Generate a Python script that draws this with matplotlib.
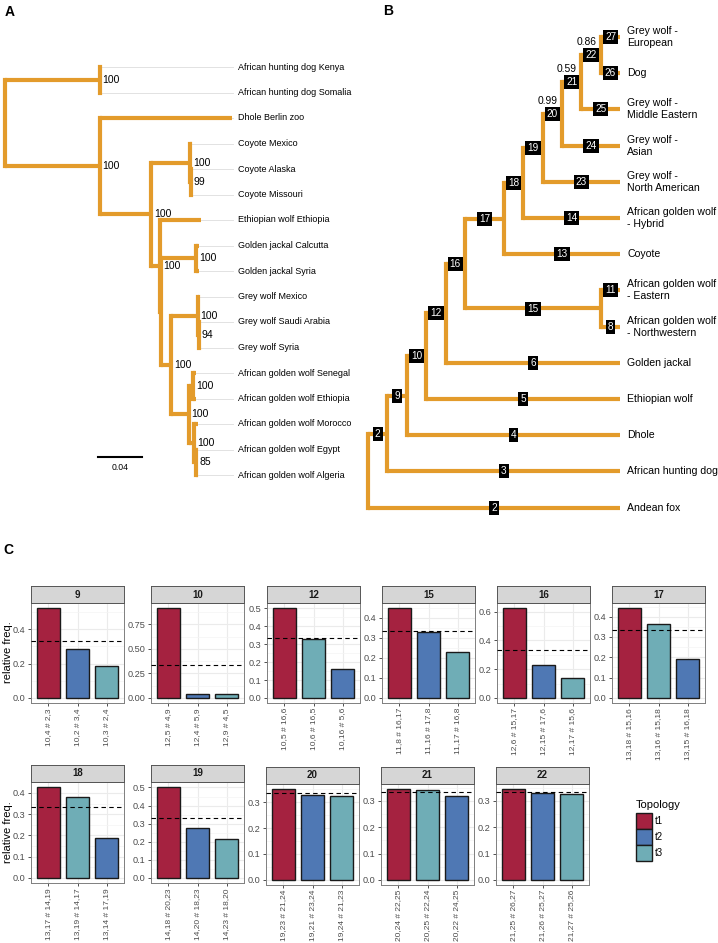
import matplotlib
matplotlib.use('Agg')
import matplotlib.pyplot as plt
from matplotlib.patches import Rectangle
from matplotlib.ticker import MultipleLocator
import numpy as np

plt.rcParams['font.family'] = ['Liberation Sans', 'DejaVu Sans']
NARROW = ['Liberation Sans Narrow', 'Liberation Sans', 'DejaVu Sans']

ORANGE = '#E39B2B'
TOPO_COLORS = {'t1': '#A52240', 't2': '#4F78B4', 't3': '#6FADB6'}

# A: ML tree, branch lengths (subst./site), bootstrap as node labels
tree_a = ("(('African hunting dog Kenya':0.0005,'African hunting dog Somalia':0.0005)100:0.086,"
          "('Dhole Berlin zoo':0.120,"
          "(('Coyote Mexico':0.002,('Coyote Alaska':0.001,'Coyote Missouri':0.0005)99:0.001)100:0.035,"
          "('Ethiopian wolf Ethiopia':0.037,"
          "(('Golden jackal Calcutta':0.002,'Golden jackal Syria':0.002)100:0.032,"
          "(('Grey wolf Mexico':0.001,('Grey wolf Saudi Arabia':0.001,'Grey wolf Syria':0.0005)94:0.001)100:0.024,"
          "(('African golden wolf Senegal':0.003,'African golden wolf Ethiopia':0.003)100:0.004,"
          "('African golden wolf Morocco':0.003,('African golden wolf Egypt':0.001,"
          "'African golden wolf Algeria':0.001)85:0.002)100:0.005)100:0.016)100:0.009):0.001)100:0.008)100:0.047)100:0.086);")

# B: species tree, depth in steps, edge numbers (#) and posterior (@)
tree_b = ("(((((((((((('Grey wolf -\nEuropean'#27:1,'Dog'#26:1)#22@0.86:1,"
          "'Grey wolf -\nMiddle Eastern'#25:2)#21@0.59:1,"
          "'Grey wolf -\nAsian'#24:3)#20@0.99:1,"
          "'Grey wolf -\nNorth American'#23:4)#19:1,"
          "'African golden wolf\n- Hybrid'#14:5)#18:1,"
          "'Coyote'#13:6)#17:2,"
          "('African golden wolf\n- Eastern'#11:1,'African golden wolf\n- Northwestern'#8:1)#15:7)#16:1,"
          "'Golden jackal'#6:9)#12:1,"
          "'Ethiopian wolf'#5:10)#10:1,"
          "'Dhole'#4:11)#9:1,"
          "'African hunting dog'#3:12)#2:1,"
          "'Andean fox'#2:13);")

# C: quartet frequencies per node
node_ids = ['9', '10', '12', '15', '16', '17', '18', '19', '20', '21', '22']
quartets = [
    ['10,4 # 2,3', '10,2 # 3,4', '10,3 # 2,4'],
    ['12,5 # 4,9', '12,4 # 5,9', '12,9 # 4,5'],
    ['10,5 # 16,6', '10,6 # 16,5', '10,16 # 5,6'],
    ['11,8 # 16,17', '11,16 # 17,8', '11,17 # 16,8'],
    ['12,6 # 15,17', '12,15 # 17,6', '12,17 # 15,6'],
    ['13,18 # 15,16', '13,16 # 15,18', '13,15 # 16,18'],
    ['13,17 # 14,19', '13,19 # 14,17', '13,14 # 17,19'],
    ['14,18 # 20,23', '14,20 # 18,23', '14,23 # 18,20'],
    ['19,23 # 21,24', '19,21 # 23,24', '19,24 # 21,23'],
    ['20,24 # 22,25', '20,25 # 22,24', '20,22 # 24,25'],
    ['21,25 # 26,27', '21,26 # 25,27', '21,27 # 25,26'],
]
rel_freq = [
    [0.527, 0.284, 0.186],
    [0.921, 0.040, 0.037],
    [0.505, 0.328, 0.161],
    [0.450, 0.330, 0.228],
    [0.628, 0.228, 0.138],
    [0.445, 0.365, 0.193],
    [0.430, 0.380, 0.189],
    [0.505, 0.278, 0.217],
    [0.352, 0.326, 0.322],
    [0.346, 0.342, 0.316],
    [0.346, 0.331, 0.327],
]
topology = [
    ['t1', 't2', 't3'], ['t1', 't2', 't3'], ['t1', 't3', 't2'], ['t1', 't2', 't3'],
    ['t1', 't2', 't3'], ['t1', 't3', 't2'], ['t1', 't3', 't2'], ['t1', 't2', 't3'],
    ['t1', 't2', 't3'], ['t1', 't3', 't2'], ['t1', 't2', 't3'],
]
tick_step = [0.2, 0.25, 0.1, 0.1, 0.2, 0.1, 0.1, 0.1, 0.1, 0.1, 0.1]

W, H = 718, 943
fig = plt.figure(figsize=(W / 100, H / 100), dpi=100)


def px_axes(x0, y0, x1, y1):
    return fig.add_axes([x0 / W, 1 - y1 / H, (x1 - x0) / W, (y1 - y0) / H])


def parse_newick(s):
    pos = 0

    def node():
        nonlocal pos
        n = {'children': [], 'label': '', 'length': 0.0}
        if s[pos] == '(':
            pos += 1
            n['children'].append(node())
            while s[pos] == ',':
                pos += 1
                n['children'].append(node())
            pos += 1
        label = ''
        while s[pos] not in ':,);':
            if s[pos] == "'":
                end = s.index("'", pos + 1)
                label += s[pos + 1:end]
                pos = end + 1
            else:
                label += s[pos]
                pos += 1
        n['label'] = label
        if s[pos] == ':':
            pos += 1
            start = pos
            while s[pos] not in ',);':
                pos += 1
            n['length'] = float(s[start:pos])
        return n

    return node()


def layout(root):
    tips = []

    def walk(n, x):
        n['x'] = x
        for c in n['children']:
            c['parent'] = n
            walk(c, x + c['length'])
        if n['children']:
            n['y'] = np.mean([c['y'] for c in n['children']])
        else:
            n['y'] = len(tips)
            tips.append(n)
    walk(root, 0.0)
    return tips


def all_nodes(n):
    yield n
    for c in n['children']:
        yield from all_nodes(c)


def draw_branches(ax, root, lw=3.0):
    for n in all_nodes(root):
        if not n['children']:
            continue
        ys = [c['y'] for c in n['children']]
        ax.plot([n['x'], n['x']], [min(ys), max(ys)], color=ORANGE, lw=lw,
                solid_capstyle='projecting', zorder=2)
        for c in n['children']:
            ax.plot([n['x'], c['x']], [c['y'], c['y']], color=ORANGE, lw=lw,
                    solid_capstyle='butt', zorder=2)


# ---------------- A ----------------
root_a = parse_newick(tree_a)
tips_a = layout(root_a)
axA = px_axes(0, 40, 360, 500)
axA.axis('off')
PXU = 1100.0  # pixels per unit branch length
axA.set_xlim(-5 / PXU, 355 / PXU)
axA.set_ylim((500 - 67) / 25.5, (40 - 67) / 25.5)
draw_branches(axA, root_a)
guide_end = 228 / PXU
for t in tips_a:
    axA.plot([t['x'], guide_end], [t['y'], t['y']], color='#E2E2E2', lw=0.7, zorder=1)
    axA.text(233 / PXU, t['y'], t['label'], ha='left', va='center', fontsize=6.5,
             family=NARROW)
for n in all_nodes(root_a):
    if n['children'] and n['label']:
        axA.text(n['x'] + 3 / PXU, n['y'], n['label'], ha='left', va='center', fontsize=7.5)
sb_x = 93 / PXU
sb_y = (457 - 67) / 25.5
axA.plot([sb_x, sb_x + 0.04], [sb_y, sb_y], color='black', lw=1.5)
axA.text(sb_x + 0.02, sb_y + 0.25, '0.04', ha='center', va='top', fontsize=6.2, family=NARROW)
fig.text(10 / W, 1 - 12 / H, 'A', fontsize=10, fontweight='bold', ha='center', va='center')

# ---------------- B ----------------
root_b = parse_newick(tree_b)
tips_b = layout(root_b)
axB = px_axes(360, 20, 718, 520)
axB.axis('off')
DX, DY = 19.4, 36.2
axB.set_xlim((360 - 368) / DX, (718 - 368) / DX)
axB.set_ylim((520 - 37) / DY, (20 - 37) / DY)
draw_branches(axB, root_b)
for n in all_nodes(root_b):
    if 'parent' not in n:
        continue
    name, rest = n['label'].split('#')
    if '@' in rest:
        num, post = rest.split('@')
    else:
        num, post = rest, None
    xm = (n['parent']['x'] + n['x']) / 2
    axB.text(xm, n['y'], num, ha='center', va='center', color='white', fontsize=7.2,
             family=NARROW, zorder=4,
             bbox=dict(boxstyle='square,pad=0.2', fc='black', ec='none'))
    if post:
        axB.text(xm - 0.25, n['y'] - 0.37, post, ha='center', va='center', fontsize=7.4)
    if not n['children']:
        axB.text(n['x'] + 7 / DX, n['y'], name, ha='left', va='center', fontsize=7.6,
                 linespacing=1.25)
fig.text(388 / W, 1 - 11 / H, 'B', fontsize=10, fontweight='bold', ha='center', va='center')

# ---------------- C ----------------
fig.text(8 / W, 1 - 550 / H, 'C', fontsize=10, fontweight='bold', ha='center', va='center')
panel_left = [31, 151, 267, 382, 497, 612, 31, 151, 266, 381, 496]
panel_top = [603] * 6 + [782, 782, 784, 784, 784]
panel_bot = [702.5] * 6 + [882.5, 882.5, 884.5, 884.5, 884.5]
PW, STRIP = 93, 17

for k, nid in enumerate(node_ids):
    x0, y0, y1 = panel_left[k], panel_top[k], panel_bot[k]
    ax = px_axes(x0, y0, x0 + PW, y1)
    vals = rel_freq[k]
    m = max(vals)
    xs = np.arange(1, 4)
    ax.bar(xs, vals, width=0.8, color=[TOPO_COLORS[t] for t in topology[k]],
           edgecolor='#1A1A1A', linewidth=1.0, zorder=3)
    ax.axhline(1 / 3, color='black', lw=0.8, ls=(0, (4, 3)), zorder=4)
    ax.set_xlim(0.4, 3.6)
    ax.set_ylim(-0.05 * m, 1.05 * m)
    step = tick_step[k]
    ax.yaxis.set_major_locator(MultipleLocator(step))
    ax.yaxis.set_minor_locator(MultipleLocator(step / 2))
    fmt = '%.2f' if step == 0.25 else '%.1f'
    ax.yaxis.set_major_formatter(plt.FormatStrFormatter(fmt))
    ax.set_xticks(xs)
    ax.set_xticklabels(quartets[k], rotation=90)
    ax.grid(which='major', color='#EBEBEB', lw=0.8, zorder=0)
    ax.grid(which='minor', axis='y', color='#F4F4F4', lw=0.5, zorder=0)
    ax.set_axisbelow(True)
    ax.tick_params(axis='both', which='major', length=2.5, width=0.6, color='#333333',
                   labelsize=6.6, labelcolor='#4D4D4D', pad=1.5)
    ax.tick_params(axis='x', which='major', labelsize=6.0)
    ax.tick_params(axis='y', which='minor', length=0)
    for sp in ax.spines.values():
        sp.set_color('#7F7F7F')
        sp.set_linewidth(0.7)
    # strip
    sax = px_axes(x0, y0 - STRIP, x0 + PW, y0)
    sax.set_xticks([])
    sax.set_yticks([])
    sax.set_facecolor('#D6D6D6')
    for sp in sax.spines.values():
        sp.set_color('#555555')
        sp.set_linewidth(0.7)
    sax.text(0.5, 0.5, nid, ha='center', va='center', fontsize=7, color='#1A1A1A',
             fontweight='bold', transform=sax.transAxes)

fig.text(8 / W, 1 - 652 / H, 'relative freq.', rotation=90, ha='center', va='center', fontsize=8)
fig.text(8 / W, 1 - 832 / H, 'relative freq.', rotation=90, ha='center', va='center', fontsize=8)

# legend
fig.text(636 / W, 1 - 805 / H, 'Topology', ha='left', va='center', fontsize=8)
for i, t in enumerate(['t1', 't2', 't3']):
    ytop = 813 + 16 * i
    fig.patches.append(Rectangle((636 / W, 1 - (ytop + 16) / H), 16 / W, 16 / H,
                                 transform=fig.transFigure, fc=TOPO_COLORS[t],
                                 ec='#1A1A1A', lw=1.0))
    fig.text(655 / W, 1 - (ytop + 8) / H, t, ha='left', va='center', fontsize=7)

fig.savefig('out.png', dpi=100)
